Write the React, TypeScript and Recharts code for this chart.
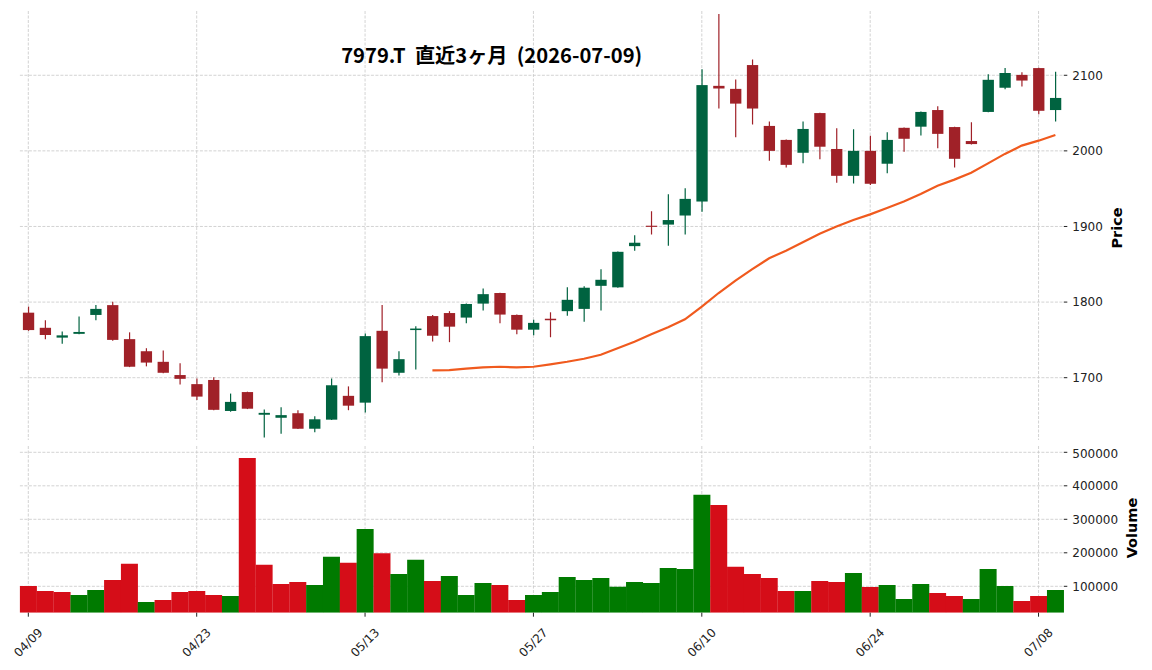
import React from 'react';
import {
  ComposedChart,
  Bar,
  Line,
  Cell,
  XAxis,
  YAxis,
  CartesianGrid,
} from 'recharts';

const dates = [
  '04/09', '04/10', '04/13', '04/14', '04/15', '04/16', '04/17', '04/20', '04/21', '04/22',
  '04/23', '04/24', '04/27', '04/28', '04/30', '05/01', '05/07', '05/08', '05/11', '05/12',
  '05/13', '05/14', '05/15', '05/18', '05/19', '05/20', '05/21', '05/22', '05/25', '05/26',
  '05/27', '05/28', '05/29', '06/01', '06/02', '06/03', '06/04', '06/05', '06/08', '06/09',
  '06/10', '06/11', '06/12', '06/15', '06/16', '06/17', '06/18', '06/19', '06/22', '06/23',
  '06/24', '06/25', '06/26', '06/29', '06/30', '07/01', '07/02', '07/03', '07/06', '07/07',
  '07/08', '07/09',
];

const opens = [
  1786, 1766, 1753, 1758, 1783, 1796, 1751, 1735, 1721, 1703.5,
  1691.5, 1697, 1656, 1681, 1651, 1647, 1653, 1632.5, 1644.5, 1676,
  1667, 1762, 1706.5, 1763, 1781.5, 1785.5, 1779.5, 1798, 1812, 1783,
  1763.5, 1778, 1788, 1791, 1821.5, 1819.5, 1874, 1901, 1902.5, 1914.5,
  1933, 2086, 2082, 2113.5, 2033, 2014.5, 1997.5, 2050, 2002.5, 1967,
  2000, 1983, 2030.5, 2032, 2054, 2031.5, 2013, 2051.5, 2083.5, 2100.5,
  2109.5, 2054,
];

const highs = [
  1794, 1776, 1761, 1781, 1796, 1800.5, 1760, 1739, 1736, 1719,
  1699, 1700.5, 1679, 1681.5, 1658, 1661, 1657, 1649, 1699, 1688.5,
  1758.5, 1796, 1735, 1768, 1783, 1788, 1798, 1818, 1812.5, 1783.5,
  1776.5, 1786.5, 1819.5, 1821, 1843.5, 1867, 1888.5, 1920, 1942.5, 1950.5,
  2108, 2181, 2094.5, 2121, 2039, 2015, 2039, 2050.5, 2030, 2028.5,
  2020, 2024.5, 2031, 2052, 2059, 2032, 2038, 2101.5, 2109.5, 2104,
  2110, 2104.5,
];

const lows = [
  1762, 1751, 1745, 1757.5, 1776, 1749, 1714, 1715, 1706, 1691,
  1670.5, 1657, 1655, 1658.5, 1621, 1626, 1632, 1628, 1644, 1657,
  1654, 1694, 1703, 1711, 1748, 1747, 1772, 1789, 1772, 1757.5,
  1756, 1753.5, 1782, 1774, 1789, 1819, 1868, 1889.5, 1874.5, 1889.5,
  1919.5, 2056, 2018, 2035, 1987, 1978, 1983.5, 1989, 1958, 1957,
  1955, 1970.5, 1999, 2020.5, 2003.5, 1978, 2008.5, 2051, 2081.5, 2085,
  2048.5, 2039,
];

const closes = [
  1763, 1756.5, 1756, 1760.5, 1791, 1750, 1714.5, 1720, 1706.5, 1698.5,
  1675, 1657.5, 1668, 1659, 1653.5, 1650.5, 1632.5, 1645, 1690, 1663,
  1755, 1712, 1724.5, 1765, 1755.5, 1767.5, 1797.5, 1810.5, 1783.5, 1763.5,
  1772.5, 1776, 1803, 1819, 1829.5, 1866.5, 1878.5, 1899.5, 1908.5, 1936.5,
  2087, 2082.5, 2062.5, 2056, 2000, 1981.5, 2029, 2005.5, 1967, 2000,
  1956.5, 2014.5, 2016, 2051.5, 2022.5, 1989.5, 2009, 2094, 2103, 2093,
  2053, 2070,
];

const volumes = [
  101000, 86000, 83000, 74000, 89000, 119000, 167000, 53000, 59000, 83000,
  86000, 74000, 71000, 483000, 164000, 107000, 113000, 104000, 188000, 170000,
  271000, 199000, 137000, 179000, 116000, 131000, 74000, 110000, 104000, 59000,
  74000, 83000, 128000, 119000, 125000, 99000, 113000, 110000, 155000, 152000,
  373000, 343000, 158000, 137000, 125000, 86000, 86000, 116000, 113000, 140000,
  98000, 104000, 62000, 107000, 80000, 71000, 62000, 152000, 101000, 56000,
  71000, 89000,
];

// 25-day moving average, from 05/19 on
const ma25 = [
  null, null, null, null, null, null, null, null, null, null,
  null, null, null, null, null, null, null, null, null, null,
  null, null, null, null, 1709.8, 1710.1, 1711.9, 1713.7, 1714.5, 1713.7,
  1714.5, 1717.7, 1721.1, 1725.1, 1730.4, 1738.9, 1747.6, 1757.4, 1766.7, 1777.2,
  1794, 1812, 1828.5, 1843.5, 1858, 1868, 1879, 1890.5, 1900, 1908.5,
  1916, 1924.5, 1933, 1943, 1954, 1962, 1971, 1983.5, 1996, 2007,
  2013.5, 2021,
];

const priceTicks = [1700, 1800, 1900, 2000, 2100];
const volumeTicks = [100000, 200000, 300000, 400000, 500000];

const UP = '#006340';
const DOWN = '#a02128';
const VOL_UP = '#007a00';
const VOL_DOWN = '#d50d18';
const GRID = '#c8c8c8';
const FONT = '"DejaVu Sans", sans-serif';

const data = dates.map((date, i) => ({
  date,
  open: opens[i],
  high: highs[i],
  low: lows[i],
  close: closes[i],
  volume: volumes[i],
  ma: ma25[i],
}));

const volumeColor = (i: number) => {
  if (i === 0) return closes[0] >= opens[0] ? VOL_UP : VOL_DOWN;
  return closes[i] >= closes[i - 1] ? VOL_UP : VOL_DOWN;
};

const Candle = (props: any) => {
  const { x, y, width, height, payload } = props;
  const { open, close, high, low } = payload;
  const color = close >= open ? UP : DOWN;
  const ratio = height / (high - low || 1);
  const yOpen = y + (high - open) * ratio;
  const yClose = y + (high - close) * ratio;
  const top = Math.min(yOpen, yClose);
  const h = Math.max(Math.abs(yOpen - yClose), 1);
  const cx = x + width / 2;
  return (
    <g>
      <line x1={cx} x2={cx} y1={y} y2={y + height} stroke={color} strokeWidth={1.2} />
      <rect x={x} y={top} width={width} height={h} fill={color} />
    </g>
  );
};

const DateTick = (props: any) => {
  const { x, y, payload } = props;
  const cy = y + 24;
  return (
    <text
      x={x}
      y={cy}
      transform={`rotate(-45 ${x} ${cy})`}
      textAnchor="middle"
      dominantBaseline="central"
      fontSize={12}
      fontFamily={FONT}
      fill="#222"
    >
      {payload.value}
    </text>
  );
};

const tickStyle = { fontSize: 12, fontFamily: FONT, fill: '#222' };

const App: React.FC = () => {
  return (
    <div style={{ position: 'absolute', left: 0, top: 0, width: 1152, height: 670, background: '#fff' }}>
      <div style={{ position: 'absolute', left: 0, top: 0 }}>
        <ComposedChart
          width={1152}
          height={446}
          data={data}
          margin={{ top: 11, right: 28.2, bottom: 6, left: 19.9 }}
        >
          <CartesianGrid stroke={GRID} strokeDasharray="3 1.5" strokeWidth={0.8} syncWithTicks />
          <XAxis dataKey="date" hide interval={9} />
          <YAxis
            orientation="right"
            width={60}
            domain={[1617.6, 2185]}
            ticks={priceTicks}
            allowDataOverflow
            axisLine={false}
            tickSize={3.5}
            tickMargin={5}
            tickLine={{ stroke: '#222' }}
            tick={tickStyle}
          />
          <Bar
            dataKey={(d: any) => [d.low, d.high]}
            barSize={11.3}
            shape={Candle}
            isAnimationActive={false}
          />
          <Line
            dataKey="ma"
            stroke="#f05a1e"
            strokeWidth={2.2}
            dot={false}
            activeDot={false}
            isAnimationActive={false}
          />
        </ComposedChart>
      </div>
      <div style={{ position: 'absolute', left: 0, top: 446 }}>
        <ComposedChart
          width={1152}
          height={224}
          data={data}
          barCategoryGap={0}
          margin={{ top: 0, right: 28.2, bottom: 7.3, left: 19.9 }}
        >
          <CartesianGrid stroke={GRID} strokeDasharray="3 1.5" strokeWidth={0.8} syncWithTicks />
          <XAxis
            dataKey="date"
            interval={9}
            height={50}
            axisLine={false}
            tickSize={4}
            tickMargin={2}
            tickLine={{ stroke: '#222' }}
            tick={DateTick}
          />
          <YAxis
            orientation="right"
            width={60}
            domain={[21200, 518800]}
            ticks={volumeTicks}
            allowDataOverflow
            axisLine={false}
            tickSize={3.5}
            tickMargin={5}
            tickLine={{ stroke: '#222' }}
            tick={tickStyle}
          />
          <Bar dataKey="volume" isAnimationActive={false}>
            {data.map((_, i) => (
              <Cell key={i} fill={volumeColor(i)} />
            ))}
          </Bar>
        </ComposedChart>
      </div>
      <svg
        width={1152}
        height={670}
        style={{ position: 'absolute', left: 0, top: 0, pointerEvents: 'none' }}
      >
        <text
          x={491.7}
          y={63}
          textAnchor="middle"
          fontSize={20.2}
          fontWeight="bold"
          fontFamily='"Noto Sans CJK JP", sans-serif'
          fill="#000"
          style={{ whiteSpace: 'pre' }}
        >
          {'7979.T  直近3ヶ月  (2026-07-09)'}
        </text>
        <text
          x={1117}
          y={228}
          transform="rotate(-90 1117 228)"
          textAnchor="middle"
          dominantBaseline="central"
          fontSize={14.5}
          fontWeight="bold"
          fontFamily={FONT}
          fill="#000"
        >
          Price
        </text>
        <text
          x={1132}
          y={528}
          transform="rotate(-90 1132 528)"
          textAnchor="middle"
          dominantBaseline="central"
          fontSize={14.5}
          fontWeight="bold"
          fontFamily={FONT}
          fill="#000"
        >
          Volume
        </text>
      </svg>
    </div>
  );
};

export default App;
